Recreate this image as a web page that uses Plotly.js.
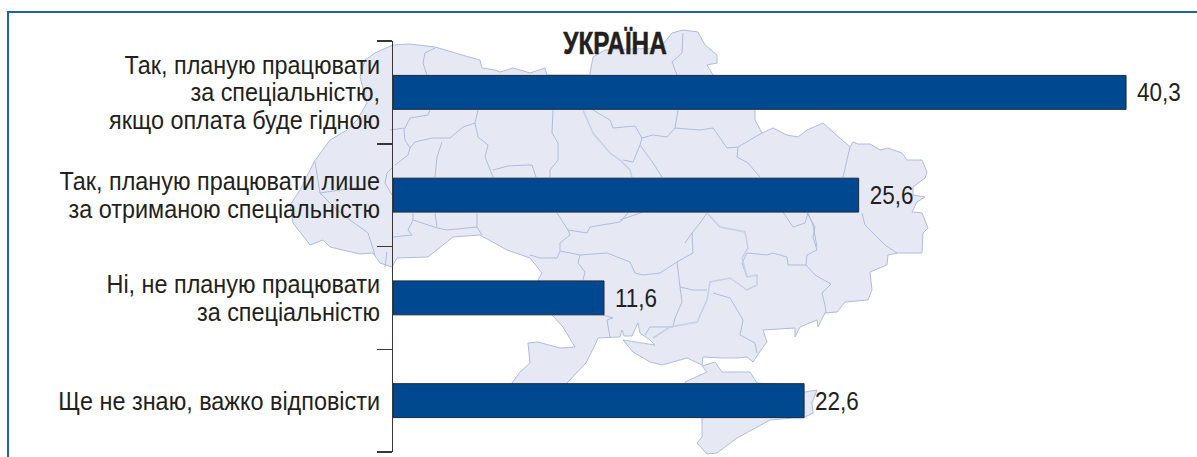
<!DOCTYPE html>
<html><head><meta charset="utf-8">
<script src="https://cdn.plot.ly/plotly-3.0.1.min.js"></script>
<style>html,body{margin:0;padding:0;background:#fff}</style></head>
<body><div id="chart" style="width:1197px;height:457px"></div>
<script>
var categories = ["Так, планую працювати<br>за спеціальністю,<br>якщо оплата буде гідною","Так, планую працювати лише<br>за отриманою спеціальністю","Ні, не планую працювати<br>за спеціальністю","Ще не знаю, важко відповісти"];
var values = [40.3, 25.6, 11.6, 22.6];
var chartTitle = "УКРАЇНА";

// Decorative backdrop map, traced in page pixels
var mapOutline = [[393,45],[410,44],[435,47],[462,55],[480,60],[482,68],[495,70],[500,72],[513,68],[527,72],[530,73],[545,68],[547,75],[562,75],[590,75],[590,73],[593,57],[605,50],[660,48],[672,33],[683,30],[698,32],[705,45],[717,55],[717,63],[707,65],[713,75],[755,110],[755,120],[762,133],[773,128],[787,135],[798,137],[807,130],[823,123],[850,147],[853,142],[858,144],[870,144],[880,150],[888,148],[902,153],[907,160],[922,160],[927,172],[925,178],[913,187],[913,195],[925,197],[917,202],[912,212],[922,213],[928,228],[923,233],[922,253],[898,253],[888,255],[887,265],[870,272],[872,290],[868,300],[845,302],[837,312],[825,313],[818,327],[817,320],[800,327],[795,337],[795,328],[763,330],[767,342],[763,347],[753,362],[747,357],[737,358],[722,358],[703,357],[702,365],[687,358],[662,365],[650,362],[633,352],[623,340],[655,345],[650,340],[640,333],[638,323],[632,336],[624,336],[622,330],[620,337],[598,338],[595,345],[586,363],[567,383],[560,400],[520,400],[512,383],[520,372],[530,363],[528,343],[538,342],[560,348],[575,347],[563,327],[552,315],[545,300],[538,280],[542,273],[530,258],[507,250],[480,235],[453,237],[428,257],[397,258],[392,267],[380,263],[373,253],[360,254],[330,247],[323,240],[310,245],[293,223],[290,205],[300,190],[314,162],[330,140],[347,130],[357,120],[367,103],[360,77],[365,60],[375,53]];
var crimea = [[702,366],[707,372],[685,382],[690,400],[702,418],[702,437],[697,443],[707,454],[717,453],[737,438],[770,420],[793,418],[803,418],[813,413],[812,403],[817,390],[805,392],[790,385],[757,383],[750,372],[735,372],[722,372],[715,362]];
var borders = [
[[435,48],[425,53],[423,63],[427,75]],
[[430,110],[428,115],[410,118],[404,130],[405,140],[410,148],[408,155],[395,165]],
[[390,130],[404,128]],
[[478,110],[475,123],[463,127],[450,138],[432,138],[415,142],[410,148]],
[[442,142],[437,157],[435,177]],
[[475,123],[478,137],[488,145],[485,157],[493,177]],
[[493,170],[508,166],[527,165],[532,165],[536,177]],
[[553,110],[552,133],[558,143],[558,160],[550,170],[550,177]],
[[593,110],[610,120],[613,128],[635,126],[642,138],[653,135],[667,137],[675,128],[678,110]],
[[675,128],[700,130],[713,128],[727,148],[738,147],[762,133]],
[[738,147],[737,157],[748,163],[760,177]],
[[850,147],[843,177]],
[[642,138],[640,145],[633,162],[623,160]],
[[640,145],[653,163],[662,177]],
[[862,213],[865,225],[885,245],[897,253]],
[[807,213],[815,227],[813,237],[817,250],[807,255],[806,265],[815,275],[831,284],[822,293],[825,305],[826,313]],
[[806,265],[788,265],[787,257],[773,253],[767,255],[747,253],[742,263],[747,277]],
[[677,262],[693,253],[692,233],[700,223],[707,213]],
[[677,262],[680,287],[682,302],[675,318],[673,327],[650,327],[645,335]],
[[677,262],[660,273],[643,275],[635,273],[630,262],[607,253],[580,255],[578,263],[585,272],[583,280]],
[[580,255],[560,251],[557,258],[540,258],[530,255]],
[[560,251],[560,243],[570,235],[568,230],[557,213]],
[[568,230],[587,233],[590,227],[620,222],[628,213]],
[[620,220],[643,212]],
[[603,315],[613,318],[607,320],[610,337]],
[[707,290],[693,290],[680,287]],
[[713,293],[730,298],[743,320],[740,335],[755,343],[757,353]],
[[783,212],[793,227],[805,223],[808,213]],
[[808,213],[813,225],[817,247]],
[[677,75],[672,62],[682,53],[683,33]],
[[392,168],[387,173],[385,183],[392,195]],
[[315,162],[320,193],[335,208],[350,220],[368,233],[375,255]],
[[320,193],[340,190],[360,187]],
[[387,252],[385,267]],
[[413,213],[413,220],[408,230],[412,235],[393,237]],
[[413,220],[437,228],[447,230],[477,227],[477,213]],
[[435,213],[437,227]],
[[477,227],[482,235]],
[[692,233],[685,243]]
];
var rivers = [
[[583,110],[593,133],[610,153],[620,160],[630,170],[632,177]],
[[707,213],[720,227],[745,232],[748,248],[742,258],[747,277],[757,275],[757,285],[747,290],[730,278],[710,282],[707,300],[697,322],[670,327],[653,338]]
];

var W = 1197, H = 457, L = 393, R = 6, T = 41, B = 5;
var plotW = W - L - R, plotH = H - T - B, pxPerUnit = 18.19;
function px(p){ return ((p[0]-L)/plotW).toFixed(5)+","+(1-(p[1]-T)/plotH).toFixed(5); }
function pathOf(list, close){
  return list.map(function(pts){
    return "M"+pts.map(px).join(" L")+(close?" Z":"");
  }).join(" ");
}
var shapes = [
 {type:"path",layer:"below",xref:"paper",yref:"paper",path:pathOf([mapOutline,crimea],true),
  fillcolor:"#e6e9f4",line:{color:"#aebcdc",width:1}},
 {type:"path",layer:"below",xref:"paper",yref:"paper",path:pathOf(borders,false),
  fillcolor:"rgba(0,0,0,0)",line:{color:"#aebcdc",width:1}},
 {type:"path",layer:"below",xref:"paper",yref:"paper",path:pathOf(rivers,false),
  fillcolor:"rgba(0,0,0,0)",line:{color:"#c6cfe6",width:1.5}},
 {type:"path",layer:"below",xref:"paper",yref:"paper",
  path:"M"+px([W,12])+" L"+px([8,12])+" L"+px([8,H]),
  fillcolor:"rgba(0,0,0,0)",line:{color:"#1e64a8",width:2}}
];
var font = "'Liberation Sans',sans-serif";
var labelSize = 26, labelLine = 27.5, labelScale = 0.9, valueScale = 0.865, titleScale = 0.76;
var data = [{
  type:"bar",orientation:"h",y:categories,x:values,
  marker:{color:"#004990",line:{color:"#1c2a3c",width:1}},
  texttemplate:"%{x:.1f}",textposition:"outside",cliponaxis:false,constraintext:"none",
  textfont:{family:font,size:labelSize,color:"#231f20"},hoverinfo:"skip"
}];
var layout = {
  width:W,height:H,margin:{l:L,r:R,t:T,b:B,pad:0},
  paper_bgcolor:"#fff",plot_bgcolor:"rgba(0,0,0,0)",
  separators:", ",showlegend:false,bargap:0.67,
  title:{text:"<b>"+chartTitle+"</b>",x:615/W,xref:"container",xanchor:"center",y:1-43/H,yref:"container",yanchor:"middle",
         font:{family:font,size:32,color:"#231f20"}},
  xaxis:{visible:false,range:[0,plotW/pxPerUnit],fixedrange:true},
  yaxis:{type:"category",categoryorder:"array",categoryarray:categories,range:[3.5,-0.5],
         tickmode:"array",tickvals:categories,ticktext:categories,tickson:"boundaries",
         ticks:"outside",ticklen:15,tickwidth:1.5,tickcolor:"#3a3536",
         showline:true,linecolor:"#3a3536",linewidth:1.5,showgrid:false,zeroline:false,
         tickfont:{family:font,size:labelSize,color:"#231f20"},automargin:false,fixedrange:true},
  shapes:shapes
};
// The reference uses a condensed face that is not installed: narrow the real text in place.
function fit(el, sx, anchor, targetX, targetY){
  var b = el.getBBox(), m = el.parentNode.getScreenCTM();
  var ax = anchor==="right" ? b.x+b.width : anchor==="left" ? b.x : b.x+b.width/2;
  var ay = b.y+b.height/2;
  el.setAttribute("transform","translate("+(targetX-m.e)+","+(targetY-m.f)+") scale("+sx+",1) translate("+(-ax)+","+(-ay)+")");
}
Plotly.newPlot("chart",data,layout,{displayModeBar:false,staticPlot:true}).then(function(gd){
  var band = plotH/categories.length;
  gd.querySelectorAll(".ytick text").forEach(function(t){
    var lines = t.querySelectorAll("tspan.line");
    lines.forEach(function(l,i){ l.setAttribute("dy",(i*labelLine/labelSize)+"em"); });
    var idx = categories.map(function(c){return c.replace(/<br>/g,"");}).indexOf(t.textContent);
    fit(t,labelScale,"right",380,T+(idx+0.5)*band);
  });
  gd.querySelectorAll(".bartext").forEach(function(t,i){
    fit(t,valueScale,"left",L+values[i]*pxPerUnit+11,T+(i+0.5)*band);
  });
  var tt = gd.querySelector(".gtitle");
  if(tt){ fit(tt,titleScale,"center",615,43); tt.style.stroke="#231f20"; tt.style.strokeWidth="0.6px"; }
});
</script></body></html>
